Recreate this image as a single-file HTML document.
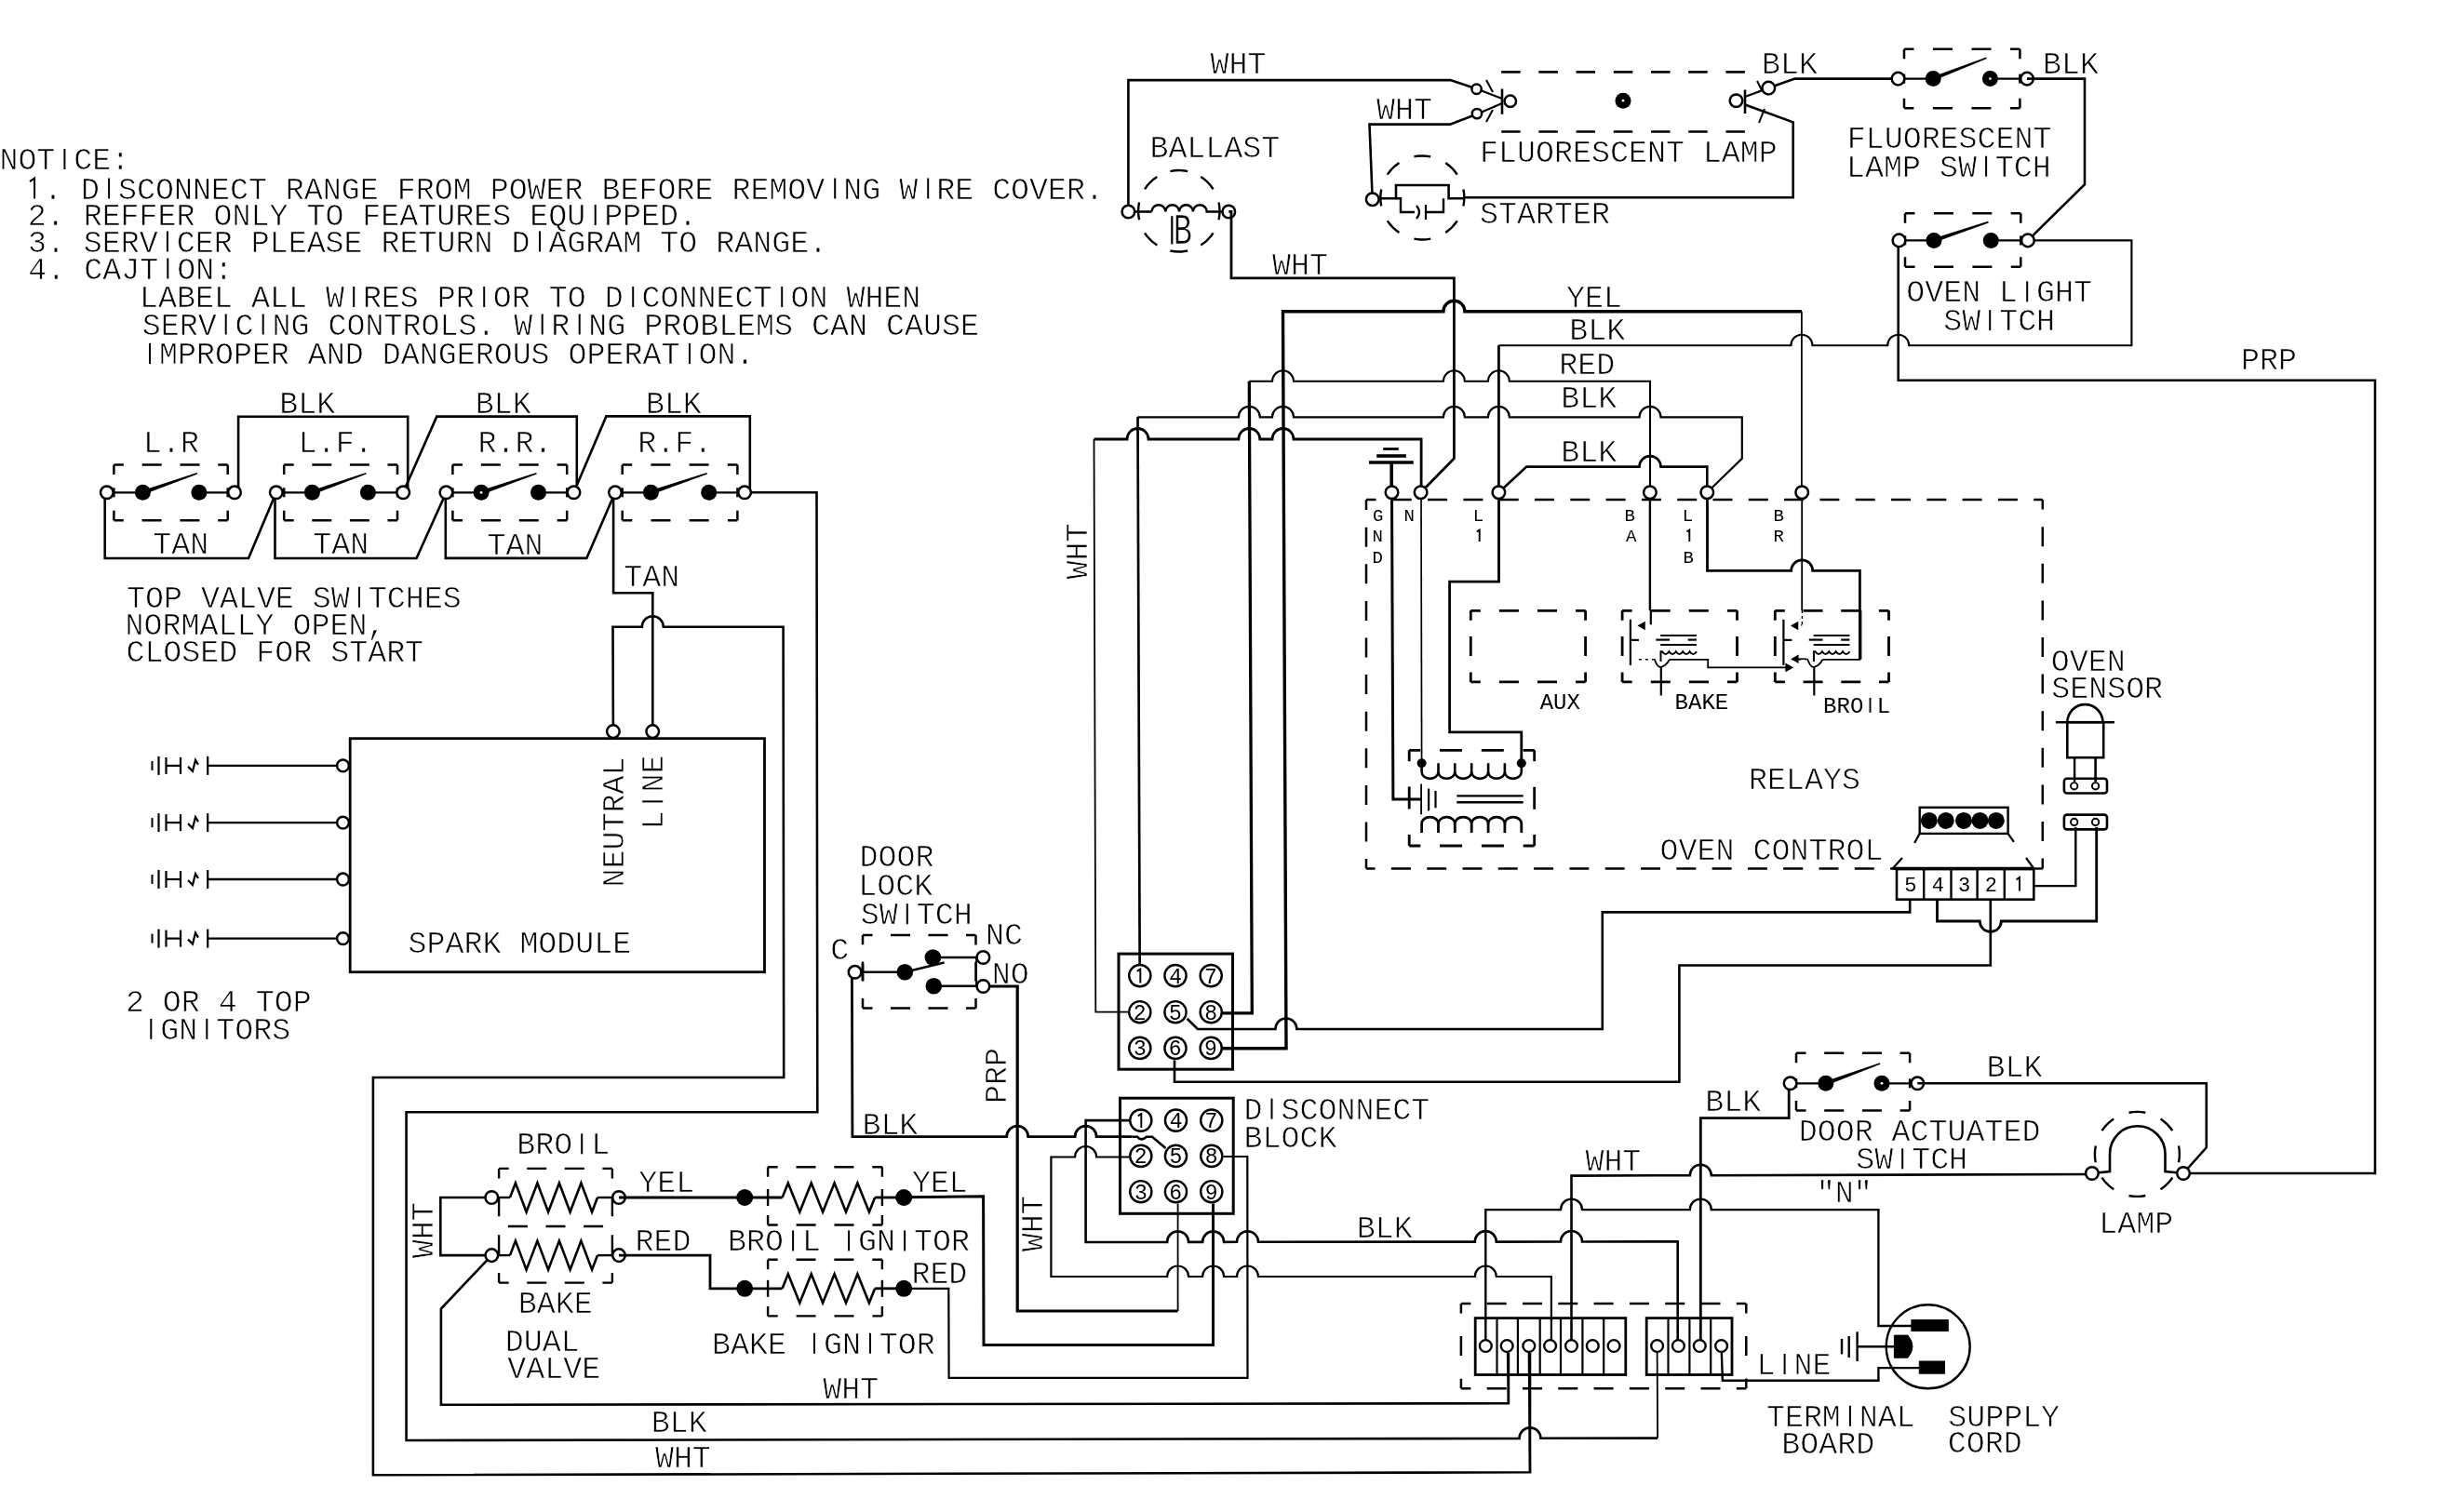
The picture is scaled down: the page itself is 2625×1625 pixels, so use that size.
<!DOCTYPE html>
<html><head><meta charset="utf-8"><title>Wiring Diagram</title>
<style>
html,body{margin:0;padding:0;background:#fff;}
body{width:2625px;height:1625px;overflow:hidden;}
svg{display:block;will-change:transform;}
text{white-space:pre;font-family:"Liberation Mono",monospace;fill:#000;stroke:#fff;stroke-width:0.7px;}
text.s{stroke:none;}
</style></head><body>
<svg xml:space="preserve" width="2625" height="1625" viewBox="0 0 2625 1625"><rect width="100%" height="100%" fill="#fff"/><g fill="none" stroke="#000" stroke-linecap="butt" stroke-linejoin="miter"><g transform="translate(2 182)"><text class="t" x="-2.6" y="0" font-size="33.3">NOT CE:</text><line class="ib" x1="67.4" y1="0" x2="67.4" y2="-22" stroke-width="2"/></g>
<g transform="translate(32 213.5)"><text class="t" x="-4.9" y="0" font-size="33.3"> . D SCONNECT RANGE FROM POWER BEFORE REMOV NG W RE COVER.</text><line class="ib" x1="85.1" y1="0" x2="85.1" y2="-22" stroke-width="2"/><line class="ib" x1="865.2" y1="0" x2="865.2" y2="-22" stroke-width="2"/><line class="ib" x1="965.2" y1="0" x2="965.2" y2="-22" stroke-width="2"/><path class="ib" d="M5.1 0 V-22 L0 -18.4" stroke-width="2" fill="none"/></g>
<g transform="translate(32 242)"><text class="t" x="-2.3" y="0" font-size="33.3">2. REFFER ONLY TO FEATURES EQU PPED.</text><line class="ib" x1="607.7" y1="0" x2="607.7" y2="-22" stroke-width="2"/></g>
<g transform="translate(32 270.5)"><text class="t" x="-2.1" y="0" font-size="33.3">3. SERV CER PLEASE RETURN D AGRAM TO RANGE.</text><line class="ib" x1="147.9" y1="0" x2="147.9" y2="-22" stroke-width="2"/><line class="ib" x1="548" y1="0" x2="548" y2="-22" stroke-width="2"/></g>
<g transform="translate(32 299.5)"><text class="t" x="-1.7" y="0" font-size="33.3">4. CAJT ON:</text><line class="ib" x1="148.3" y1="0" x2="148.3" y2="-22" stroke-width="2"/></g>
<g transform="translate(154 330)"><text class="t" x="-3.9" y="0" font-size="33.3">LABEL ALL W RES PR OR TO D CONNECT ON WHEN</text><line class="ib" x1="226.2" y1="0" x2="226.2" y2="-22" stroke-width="2"/><line class="ib" x1="366.2" y1="0" x2="366.2" y2="-22" stroke-width="2"/><line class="ib" x1="526.2" y1="0" x2="526.2" y2="-22" stroke-width="2"/><line class="ib" x1="686.2" y1="0" x2="686.2" y2="-22" stroke-width="2"/></g>
<g transform="translate(154 359.5)"><text class="t" x="-1.3" y="0" font-size="33.3">SERV C NG CONTROLS. W R NG PROBLEMS CAN CAUSE</text><line class="ib" x1="88.7" y1="0" x2="88.7" y2="-22" stroke-width="2"/><line class="ib" x1="128.7" y1="0" x2="128.7" y2="-22" stroke-width="2"/><line class="ib" x1="428.7" y1="0" x2="428.7" y2="-22" stroke-width="2"/><line class="ib" x1="468.7" y1="0" x2="468.7" y2="-22" stroke-width="2"/></g>
<g transform="translate(160 391)"><text class="t" x="-9" y="0" font-size="33.3"> MPROPER AND DANGEROUS OPERAT ON.</text><line class="ib" x1="1" y1="0" x2="1" y2="-22" stroke-width="2"/><line class="ib" x1="581" y1="0" x2="581" y2="-22" stroke-width="2"/></g>
<path d="M252 529.3 L256.1 529.3 L256.1 447.8 L438.2 447.8 L438.2 529.3 L433.2 529.3" stroke-width="2.6"/>
<path d="M433.2 529.3 L469.3 447.6 L619.8 447.6 L619.8 529.3 L616.5 529.3" stroke-width="2.6"/>
<path d="M616.5 529.3 L651.4 447.4 L805.8 447.4 L805.8 529.3" stroke-width="2.6"/>
<path d="M114.8 529.3 L112.7 529.3 L112.7 600 L267 600 L296.8 529.3" stroke-width="2.6"/>
<path d="M295.5 529.3 L295.5 600 L447.5 600 L479.4 529.3" stroke-width="2.6"/>
<path d="M478.8 529.3 L478.8 599.9 L630.3 599.9 L661 529.3" stroke-width="2.6"/>
<path d="M659.1 529.3 L659.1 637.3 L701.3 637.3 L701.3 786.1" stroke-width="2.6"/>
<path d="M800.1 529.3 L877.5 529.3 L878.3 1195.3 L436.6 1195.3 L436.6 1548 L1632.5 1545.9 A11.5 11.5 0 0 1 1655.5 1545.8 L1781.1 1545.6" stroke-width="2.6"/>
<polyline points="114.8,529.3 153.4,529.3" stroke-width="2.3"/>
<polyline points="213.9,529.3 252,529.3" stroke-width="2.3"/>
<path d="M154.1 531.4 L212.2 509.6 L211.6 508 L152.7 527.2 Z" fill="#000" stroke="none"/>
<line x1="122.4" y1="499.4" x2="244.7" y2="499.4" stroke-width="2.5" stroke-dasharray="21 19.8" stroke-dashoffset="10.5"/>
<line x1="244.7" y1="499.4" x2="244.7" y2="559.2" stroke-width="2.5" stroke-dasharray="21 38.8" stroke-dashoffset="10.5"/>
<line x1="244.7" y1="559.2" x2="122.4" y2="559.2" stroke-width="2.5" stroke-dasharray="21 19.8" stroke-dashoffset="10.5"/>
<line x1="122.4" y1="559.2" x2="122.4" y2="499.4" stroke-width="2.5" stroke-dasharray="21 38.8" stroke-dashoffset="10.5"/>
<polyline points="122.4,524.3 122.4,534.3" stroke-width="2.5"/>
<polyline points="244.7,524.3 244.7,534.3" stroke-width="2.5"/>
<circle cx="153.4" cy="529.3" r="8.5" fill="#000" stroke="none"/>
<circle cx="213.9" cy="529.3" r="8.5" fill="#000" stroke="none"/>
<circle cx="114.8" cy="529.3" r="6.8" fill="#fff" stroke-width="2.5"/>
<circle cx="252" cy="529.3" r="6.8" fill="#fff" stroke-width="2.5"/>
<polyline points="296.8,529.3 335.4,529.3" stroke-width="2.3"/>
<polyline points="395.4,529.3 433.2,529.3" stroke-width="2.3"/>
<path d="M336.1 531.4 L393.7 509.6 L393.1 508 L334.7 527.2 Z" fill="#000" stroke="none"/>
<line x1="305.2" y1="499.4" x2="427" y2="499.4" stroke-width="2.5" stroke-dasharray="21 19.6" stroke-dashoffset="10.5"/>
<line x1="427" y1="499.4" x2="427" y2="559.2" stroke-width="2.5" stroke-dasharray="21 38.8" stroke-dashoffset="10.5"/>
<line x1="427" y1="559.2" x2="305.2" y2="559.2" stroke-width="2.5" stroke-dasharray="21 19.6" stroke-dashoffset="10.5"/>
<line x1="305.2" y1="559.2" x2="305.2" y2="499.4" stroke-width="2.5" stroke-dasharray="21 38.8" stroke-dashoffset="10.5"/>
<polyline points="305.2,524.3 305.2,534.3" stroke-width="2.5"/>
<polyline points="427,524.3 427,534.3" stroke-width="2.5"/>
<circle cx="335.4" cy="529.3" r="8.5" fill="#000" stroke="none"/>
<circle cx="395.4" cy="529.3" r="8.5" fill="#000" stroke="none"/>
<circle cx="296.8" cy="529.3" r="6.8" fill="#fff" stroke-width="2.5"/>
<circle cx="433.2" cy="529.3" r="6.8" fill="#fff" stroke-width="2.5"/>
<polyline points="479.4,529.3 517.1,529.3" stroke-width="2.3"/>
<polyline points="578.5,529.3 616.5,529.3" stroke-width="2.3"/>
<path d="M517.8 531.4 L576.8 509.6 L576.2 508 L516.4 527.2 Z" fill="#000" stroke="none"/>
<line x1="486.4" y1="499.4" x2="609.2" y2="499.4" stroke-width="2.5" stroke-dasharray="21 19.9" stroke-dashoffset="10.5"/>
<line x1="609.2" y1="499.4" x2="609.2" y2="559.2" stroke-width="2.5" stroke-dasharray="21 38.8" stroke-dashoffset="10.5"/>
<line x1="609.2" y1="559.2" x2="486.4" y2="559.2" stroke-width="2.5" stroke-dasharray="21 19.9" stroke-dashoffset="10.5"/>
<line x1="486.4" y1="559.2" x2="486.4" y2="499.4" stroke-width="2.5" stroke-dasharray="21 38.8" stroke-dashoffset="10.5"/>
<polyline points="486.4,524.3 486.4,534.3" stroke-width="2.5"/>
<polyline points="609.2,524.3 609.2,534.3" stroke-width="2.5"/>
<circle cx="517.1" cy="529.3" r="8.5" fill="#000" stroke="none"/>
<circle cx="517.1" cy="529.3" r="1.4" fill="#fff" stroke="none"/>
<circle cx="578.5" cy="529.3" r="8.5" fill="#000" stroke="none"/>
<circle cx="479.4" cy="529.3" r="6.8" fill="#fff" stroke-width="2.5"/>
<circle cx="616.5" cy="529.3" r="6.8" fill="#fff" stroke-width="2.5"/>
<polyline points="661,529.3 699.4,529.3" stroke-width="2.3"/>
<polyline points="761.7,529.3 800.1,529.3" stroke-width="2.3"/>
<path d="M700.1 531.4 L760 509.6 L759.4 508 L698.7 527.2 Z" fill="#000" stroke="none"/>
<line x1="668.7" y1="499.4" x2="792.4" y2="499.4" stroke-width="2.5" stroke-dasharray="21 20.2" stroke-dashoffset="10.5"/>
<line x1="792.4" y1="499.4" x2="792.4" y2="559.2" stroke-width="2.5" stroke-dasharray="21 38.8" stroke-dashoffset="10.5"/>
<line x1="792.4" y1="559.2" x2="668.7" y2="559.2" stroke-width="2.5" stroke-dasharray="21 20.2" stroke-dashoffset="10.5"/>
<line x1="668.7" y1="559.2" x2="668.7" y2="499.4" stroke-width="2.5" stroke-dasharray="21 38.8" stroke-dashoffset="10.5"/>
<polyline points="668.7,524.3 668.7,534.3" stroke-width="2.5"/>
<polyline points="792.4,524.3 792.4,534.3" stroke-width="2.5"/>
<circle cx="699.4" cy="529.3" r="8.5" fill="#000" stroke="none"/>
<circle cx="761.7" cy="529.3" r="8.5" fill="#000" stroke="none"/>
<circle cx="661" cy="529.3" r="6.8" fill="#fff" stroke-width="2.5"/>
<circle cx="800.1" cy="529.3" r="6.8" fill="#fff" stroke-width="2.5"/>
<g transform="translate(158 486.4)"><text class="t" x="-3.9" y="0" font-size="33.3">L.R</text></g>
<g transform="translate(324.6 486.4)"><text class="t" x="-3.9" y="0" font-size="33.3">L.F.</text></g>
<g transform="translate(516.2 485.8)"><text class="t" x="-2.6" y="0" font-size="33.3">R.R.</text></g>
<g transform="translate(687.9 485.8)"><text class="t" x="-2.6" y="0" font-size="33.3">R.F.</text></g>
<g transform="translate(302.8 443.6)"><text class="t" x="-2.6" y="0" font-size="33.3">BLK</text></g>
<g transform="translate(513.3 443.6)"><text class="t" x="-2.6" y="0" font-size="33.3">BLK</text></g>
<g transform="translate(696.5 443.6)"><text class="t" x="-2.6" y="0" font-size="33.3">BLK</text></g>
<g transform="translate(165.5 595.4)"><text class="t" x="-1.2" y="0" font-size="33.3">TAN</text></g>
<g transform="translate(337.5 595.4)"><text class="t" x="-1.2" y="0" font-size="33.3">TAN</text></g>
<g transform="translate(524.8 596)"><text class="t" x="-1.2" y="0" font-size="33.3">TAN</text></g>
<g transform="translate(671.5 629.6)"><text class="t" x="-1.2" y="0" font-size="33.3">TAN</text></g>
<g transform="translate(137.2 652.7)"><text class="t" x="-1.2" y="0" font-size="33.3">TOP VALVE SW TCHES</text><line class="ib" x1="248.8" y1="0" x2="248.8" y2="-22" stroke-width="2"/></g>
<g transform="translate(137.2 681.9)"><text class="t" x="-2.6" y="0" font-size="33.3">NORMALLY OPEN,</text></g>
<g transform="translate(137.2 711.1)"><text class="t" x="-1.8" y="0" font-size="33.3">CLOSED FOR START</text></g>
<rect x="376.2" y="793.7" width="445.3" height="251" stroke-width="2.8" fill="none"/>
<path d="M658.9 786.1 L658.5 673.7 L689.8 673.7 A11.5 11.5 0 0 1 712.8 673.7 L841.6 673.7 L842.2 1158 L400.9 1158 L400.9 1585.3 L1644 1582.3 L1644 1454" stroke-width="2.6"/>
<circle cx="658.9" cy="786.1" r="6.8" fill="#fff" stroke-width="2.5"/>
<circle cx="701.2" cy="786.1" r="6.8" fill="#fff" stroke-width="2.5"/>
<g transform="translate(670.2 950.8) rotate(-90)"><text class="t" x="-2.6" y="0" font-size="33.3">NEUTRAL</text></g>
<g transform="translate(712.2 887.5) rotate(-90)"><text class="t" x="-3.9" y="0" font-size="33.3">L NE</text><line class="ib" x1="26.1" y1="0" x2="26.1" y2="-22" stroke-width="2"/></g>
<g transform="translate(439.8 1024.1)"><text class="t" x="-1.3" y="0" font-size="33.3">SPARK MODULE</text></g>
<polyline points="223.2,822.9 362,822.9" stroke-width="2.3"/>
<circle cx="368.5" cy="822.9" r="6.4" fill="#fff" stroke-width="2.5"/>
<polyline points="163.5,817.9 163.5,827.9" stroke-width="2"/>
<polyline points="170.5,812.9 170.5,832.9" stroke-width="2.2"/>
<polyline points="178.5,813.9 178.5,831.9" stroke-width="2.2"/>
<polyline points="178.5,822.9 194,822.9" stroke-width="2.2"/>
<polyline points="194,813.9 194,831.9" stroke-width="2.2"/>
<path d="M202 823.9 L207 828.9 L210 816.9 L213 821.9" stroke-width="2.2"/>
<polyline points="223.2,812.9 223.2,832.9" stroke-width="2.2"/>
<polyline points="223.2,884.1 362,884.1" stroke-width="2.3"/>
<circle cx="368.5" cy="884.1" r="6.4" fill="#fff" stroke-width="2.5"/>
<polyline points="163.5,879.1 163.5,889.1" stroke-width="2"/>
<polyline points="170.5,874.1 170.5,894.1" stroke-width="2.2"/>
<polyline points="178.5,875.1 178.5,893.1" stroke-width="2.2"/>
<polyline points="178.5,884.1 194,884.1" stroke-width="2.2"/>
<polyline points="194,875.1 194,893.1" stroke-width="2.2"/>
<path d="M202 885.1 L207 890.1 L210 878.1 L213 883.1" stroke-width="2.2"/>
<polyline points="223.2,874.1 223.2,894.1" stroke-width="2.2"/>
<polyline points="223.2,945 362,945" stroke-width="2.3"/>
<circle cx="368.5" cy="945" r="6.4" fill="#fff" stroke-width="2.5"/>
<polyline points="163.5,940 163.5,950" stroke-width="2"/>
<polyline points="170.5,935 170.5,955" stroke-width="2.2"/>
<polyline points="178.5,936 178.5,954" stroke-width="2.2"/>
<polyline points="178.5,945 194,945" stroke-width="2.2"/>
<polyline points="194,936 194,954" stroke-width="2.2"/>
<path d="M202 946 L207 951 L210 939 L213 944" stroke-width="2.2"/>
<polyline points="223.2,935 223.2,955" stroke-width="2.2"/>
<polyline points="223.2,1008.6 362,1008.6" stroke-width="2.3"/>
<circle cx="368.5" cy="1008.6" r="6.4" fill="#fff" stroke-width="2.5"/>
<polyline points="163.5,1003.6 163.5,1013.6" stroke-width="2"/>
<polyline points="170.5,998.6 170.5,1018.6" stroke-width="2.2"/>
<polyline points="178.5,999.6 178.5,1017.6" stroke-width="2.2"/>
<polyline points="178.5,1008.6 194,1008.6" stroke-width="2.2"/>
<polyline points="194,999.6 194,1017.6" stroke-width="2.2"/>
<path d="M202 1009.6 L207 1014.6 L210 1002.6 L213 1007.6" stroke-width="2.2"/>
<polyline points="223.2,998.6 223.2,1018.6" stroke-width="2.2"/>
<g transform="translate(137.2 1086.5)"><text class="t" x="-2.3" y="0" font-size="33.3">2 OR 4 TOP</text></g>
<g transform="translate(161.3 1116.9)"><text class="t" x="-9" y="0" font-size="33.3"> GN TORS</text><line class="ib" x1="1" y1="0" x2="1" y2="-22" stroke-width="2"/><line class="ib" x1="61" y1="0" x2="61" y2="-22" stroke-width="2"/></g>
<path d="M1212.4 227.3 L1212.4 86.1 L1558.5 86.1 L1586.7 95.5" stroke-width="2.6"/>
<path d="M1474.7 214.2 L1471.5 133.6 L1558 133.6 L1586.7 122.8" stroke-width="2.6"/>
<polyline points="1212.4,227.5 1237.5,227.5" stroke-width="2.6"/>
<path d="M1237.5 227.5 A7.4 7.3 0 0 1 1252.3 227.5 A7.4 7.3 0 0 1 1267.1 227.5 A7.4 7.3 0 0 1 1281.9 227.5 A7.4 7.3 0 0 1 1296.7 227.5 L1320 227.5" stroke-width="2.5"/>
<circle cx="1212.4" cy="227.5" r="6.8" fill="#fff" stroke-width="2.5"/>
<circle cx="1320.3" cy="227.5" r="6.8" fill="#fff" stroke-width="2.5"/>
<path d="M1309.5 236.2 A43.7 43.7 0 0 0 1309.5 217.4 M1303.6 203.3 A43.7 43.7 0 0 0 1290.3 190 M1276.2 184.1 A43.7 43.7 0 0 0 1257.4 184.1 M1243.3 190 A43.7 43.7 0 0 0 1230 203.3 M1224.1 217.4 A43.7 43.7 0 0 0 1224.1 236.2 M1230 250.3 A43.7 43.7 0 0 0 1243.3 263.6 M1257.4 269.5 A43.7 43.7 0 0 0 1276.2 269.5 M1290.3 263.6 A43.7 43.7 0 0 0 1303.6 250.3" stroke-width="2.4"/>
<text class="t" transform="translate(1263.3 262.4) scale(0.74 1)" x="-3.6" y="0" font-size="45.5">B</text>
<polyline points="1259.3,232.2 1259.3,262.4" stroke-width="2.2"/>
<g transform="translate(1238 169)"><text class="t" x="-2.6" y="0" font-size="33.3">BALLAST</text></g>
<g transform="translate(1300.5 79.2)"><text class="t" x="-0" y="0" font-size="33.3">WHT</text></g>
<g transform="translate(1479 127.6)"><text class="t" x="-0" y="0" font-size="33.3">WHT</text></g>
<circle cx="1474.7" cy="214.2" r="6.8" fill="#fff" stroke-width="2.5"/>
<path d="M1483 213.2 L1500 213.2 L1500 199 L1556.6 199 L1556.6 213.2 L1573.5 213.2" stroke-width="2.6"/>
<path d="M1500 213.2 L1505 213.2 L1505 228 L1520 228" stroke-width="2.4"/>
<path d="M1522 221 Q1528 228 1522 235" stroke-width="2.2"/>
<polyline points="1532,220 1532,236" stroke-width="2.2"/>
<path d="M1532 228 L1551 228 L1551 213.2" stroke-width="2.4"/>
<path d="M1572.4 221.4 A45 45 0 0 0 1572.4 203.6 M1565.8 187.6 A45 45 0 0 0 1553.2 175 M1537.2 168.4 A45 45 0 0 0 1519.4 168.4 M1503.4 175 A45 45 0 0 0 1490.8 187.6 M1484.2 203.6 A45 45 0 0 0 1484.2 221.4 M1490.8 237.4 A45 45 0 0 0 1503.4 250 M1519.4 256.6 A45 45 0 0 0 1537.2 256.6 M1553.2 250 A45 45 0 0 0 1565.8 237.4" stroke-width="2.4"/>
<g transform="translate(1591.4 239.6)"><text class="t" x="-1.3" y="0" font-size="33.3">STARTER</text></g>
<path d="M1573.5 212.3 L1926.7 212.3 L1926.7 131.3 L1875 112.5" stroke-width="2.6"/>
<line x1="1613.2" y1="77.4" x2="1875" y2="77.4" stroke-width="2.6" stroke-dasharray="20.5 19.7" stroke-dashoffset="0"/>
<line x1="1613.2" y1="141.5" x2="1875" y2="141.5" stroke-width="2.6" stroke-dasharray="20.5 19.7" stroke-dashoffset="0"/>
<polyline points="1614,95.5 1614,122.8" stroke-width="2.6"/>
<polyline points="1586.7,95.5 1614,106" stroke-width="2.3"/>
<polyline points="1586.7,122.8 1614,111" stroke-width="2.3"/>
<circle cx="1622.8" cy="108.8" r="6.2" fill="#fff" stroke-width="2.5"/>
<circle cx="1586.6" cy="95.8" r="5.2" fill="#fff" stroke-width="2.5"/>
<circle cx="1587" cy="122.1" r="5.2" fill="#fff" stroke-width="2.5"/>
<polyline points="1597,86 1604,99" stroke-width="2"/>
<polyline points="1597,131 1604,118" stroke-width="2"/>
<circle cx="1744" cy="108.2" r="8.5" fill="#000" stroke="none"/>
<circle cx="1744" cy="108.2" r="1.4" fill="#fff" stroke="none"/>
<polyline points="1875,96.5 1875,122" stroke-width="2.6"/>
<polyline points="1875,104 1900.3,94.6" stroke-width="2.3"/>
<circle cx="1865.5" cy="108.2" r="6.8" fill="#fff" stroke-width="2.5"/>
<path d="M1900.3 94.6 L1928.6 84.6 L2039.5 84.6" stroke-width="2.6"/>
<circle cx="1900.3" cy="94.6" r="6.8" fill="#fff" stroke-width="2.5"/>
<polyline points="1888,87 1893,97" stroke-width="2"/>
<polyline points="1890,132 1896,117" stroke-width="2"/>
<g transform="translate(1593.3 174)"><text class="t" x="-3.2" y="0" font-size="33.3">FLUORESCENT LAMP</text></g>
<g transform="translate(1895.6 78.6)"><text class="t" x="-2.6" y="0" font-size="33.3">BLK</text></g>
<polyline points="2039.5,84.6 2077.2,84.6" stroke-width="2.3"/>
<polyline points="2138.4,84.6 2178,84.6" stroke-width="2.3"/>
<path d="M2078 86.6 L2134.9 62.9 L2134.3 61.5 L2076.4 82.6 Z" fill="#000" stroke="none"/>
<line x1="2046" y1="52.8" x2="2170.4" y2="52.8" stroke-width="2.5" stroke-dasharray="21 20.5" stroke-dashoffset="10.5"/>
<line x1="2170.4" y1="52.8" x2="2170.4" y2="116.3" stroke-width="2.5" stroke-dasharray="21 42.5" stroke-dashoffset="10.5"/>
<line x1="2170.4" y1="116.3" x2="2046" y2="116.3" stroke-width="2.5" stroke-dasharray="21 20.5" stroke-dashoffset="10.5"/>
<line x1="2046" y1="116.3" x2="2046" y2="52.8" stroke-width="2.5" stroke-dasharray="21 42.5" stroke-dashoffset="10.5"/>
<polyline points="2046,79.6 2046,89.6" stroke-width="2.5"/>
<polyline points="2170.4,79.6 2170.4,89.6" stroke-width="2.5"/>
<circle cx="2077.2" cy="84.6" r="8.5" fill="#000" stroke="none"/>
<circle cx="2138.4" cy="84.6" r="8.5" fill="#000" stroke="none"/>
<circle cx="2138.4" cy="84.6" r="1.4" fill="#fff" stroke="none"/>
<circle cx="2039.5" cy="84.6" r="6.8" fill="#fff" stroke-width="2.5"/>
<circle cx="2178" cy="84.6" r="6.8" fill="#fff" stroke-width="2.5"/>
<g transform="translate(2197.7 79)"><text class="t" x="-2.6" y="0" font-size="33.3">BLK</text></g>
<g transform="translate(1987.9 158.6)"><text class="t" x="-3.2" y="0" font-size="33.3">FLUORESCENT</text></g>
<g transform="translate(1987.9 189.7)"><text class="t" x="-3.9" y="0" font-size="33.3">LAMP SW TCH</text><line class="ib" x1="146.2" y1="0" x2="146.2" y2="-22" stroke-width="2"/></g>
<path d="M2178 84.6 L2240 84.6 L2240 198.2 L2178.9 258.4" stroke-width="2.6"/>
<path d="M2178.9 258.4 L2290.4 258.4 L2290.4 371.2 L2051.2 371.2 A11.5 11.5 0 0 0 2028.2 371.2 L1947.4 371.2 A11.5 11.5 0 0 0 1924.4 371.2 L1610.4 371.2" stroke-width="2.1"/>
<path d="M1610.4 371.2 L1610.4 529.2" stroke-width="2.8"/>
<path d="M2039.7 258.4 L2039.7 408.8 L2552 408.8 L2552 1261 L2346 1261" stroke-width="2.6"/>
<polyline points="2040.5,258.4 2078,258.4" stroke-width="2.3"/>
<polyline points="2139.3,258.4 2178.9,258.4" stroke-width="2.3"/>
<path d="M2078.7 260.5 L2136.8 239.4 L2136.2 237.8 L2077.3 256.3 Z" fill="#000" stroke="none"/>
<line x1="2047" y1="229.2" x2="2171.3" y2="229.2" stroke-width="2.5" stroke-dasharray="21 20.4" stroke-dashoffset="10.5"/>
<line x1="2171.3" y1="229.2" x2="2171.3" y2="286.7" stroke-width="2.5" stroke-dasharray="21 36.5" stroke-dashoffset="10.5"/>
<line x1="2171.3" y1="286.7" x2="2047" y2="286.7" stroke-width="2.5" stroke-dasharray="21 20.4" stroke-dashoffset="10.5"/>
<line x1="2047" y1="286.7" x2="2047" y2="229.2" stroke-width="2.5" stroke-dasharray="21 36.5" stroke-dashoffset="10.5"/>
<polyline points="2047,253.4 2047,263.4" stroke-width="2.5"/>
<polyline points="2171.3,253.4 2171.3,263.4" stroke-width="2.5"/>
<circle cx="2078" cy="258.4" r="8.5" fill="#000" stroke="none"/>
<circle cx="2139.3" cy="258.4" r="8.5" fill="#000" stroke="none"/>
<circle cx="2040.5" cy="258.4" r="6.8" fill="#fff" stroke-width="2.5"/>
<circle cx="2178.9" cy="258.4" r="6.8" fill="#fff" stroke-width="2.5"/>
<g transform="translate(2049.9 324.4)"><text class="t" x="-1.7" y="0" font-size="33.3">OVEN L GHT</text><line class="ib" x1="128.3" y1="0" x2="128.3" y2="-22" stroke-width="2"/></g>
<g transform="translate(2089.5 355.1)"><text class="t" x="-1.3" y="0" font-size="33.3">SW TCH</text><line class="ib" x1="48.7" y1="0" x2="48.7" y2="-22" stroke-width="2"/></g>
<g transform="translate(2410.6 396.6)"><text class="t" x="-2.6" y="0" font-size="33.3">PRP</text></g>
<path d="M1320.3 227.3 L1323 227.3 L1323 298.8 L1562.4 298.8 L1562.4 492.8 L1526.6 529.2" stroke-width="2.8"/>
<path d="M1300.9 1126.8 L1382 1126.8 L1378.5 334.8 L1550.9 334.8 A11.5 11.5 0 0 1 1573.9 334.8 L1935.9 334.8" stroke-width="3.4"/>
<path d="M1935.9 334.8 L1935.9 529.2" stroke-width="1.8"/>
<path d="M1301.4 1088.8 L1345.3 1088.8 L1342.3 409.8" stroke-width="3.3"/>
<path d="M1342.3 409.8 L1367 409.8 A11.5 11.5 0 0 1 1390 409.8 L1550.9 409.8 A11.5 11.5 0 0 1 1573.9 409.8 L1598.9 409.8 A11.5 11.5 0 0 1 1621.9 409.8 L1773 409.8 L1773 529.2" stroke-width="2.1"/>
<path d="M1224.7 1048.6 L1222.5 448.3" stroke-width="2.7"/>
<path d="M1222.5 448.3 L1330.8 448.3 A11.5 11.5 0 0 1 1353.8 448.3 L1367 448.3 A11.5 11.5 0 0 1 1390 448.3 L1550.9 448.3 A11.5 11.5 0 0 1 1573.9 448.3 L1598.9 448.3 A11.5 11.5 0 0 1 1621.9 448.3 L1761.5 448.3 A11.5 11.5 0 0 1 1784.5 448.3 L1871.8 448.3 L1871.8 492.8 L1834.3 529.2" stroke-width="2.2"/>
<path d="M1610.4 529.2 L1640.3 501.6 L1761.5 501.6 A11.5 11.5 0 0 1 1784.5 501.6 L1834.3 501.6 L1834.3 529.2" stroke-width="2.6"/>
<path d="M1224.9 1087.7 L1177.3 1087.7 L1175.5 472" stroke-width="1.8"/>
<path d="M1175.5 472 L1211 472 A11.5 11.5 0 0 1 1234 472 L1330.8 472 A11.5 11.5 0 0 1 1353.8 472 L1367 472 A11.5 11.5 0 0 1 1390 472 L1527.1 472 L1527.1 529.2" stroke-width="2.8"/>
<polyline points="1471,497 1518.8,497" stroke-width="3.6"/>
<polyline points="1479.2,490 1510.9,490" stroke-width="3.6"/>
<polyline points="1486.2,482.5 1502.8,482.5" stroke-width="2.8"/>
<polyline points="1495.2,497 1495.2,529.2" stroke-width="3.6"/>
<g transform="translate(1683.6 330)"><text class="t" x="-0.6" y="0" font-size="33.3">YEL</text></g>
<g transform="translate(1688.8 364.7)"><text class="t" x="-2.6" y="0" font-size="33.3">BLK</text></g>
<g transform="translate(1677.9 402.4)"><text class="t" x="-2.6" y="0" font-size="33.3">RED</text></g>
<g transform="translate(1679.8 438)"><text class="t" x="-2.6" y="0" font-size="33.3">BLK</text></g>
<g transform="translate(1679.8 495.6)"><text class="t" x="-2.6" y="0" font-size="33.3">BLK</text></g>
<g transform="translate(1367 295)"><text class="t" x="-0" y="0" font-size="33.3">WHT</text></g>
<g transform="translate(1167.5 622.5) rotate(-90)"><text class="t" x="-0" y="0" font-size="33.3">WHT</text></g>
<line x1="1468" y1="537.1" x2="2194.8" y2="537.1" stroke-width="2.5" stroke-dasharray="21 17.3" stroke-dashoffset="10.5"/>
<line x1="2194.8" y1="537.1" x2="2194.8" y2="933.6" stroke-width="2.5" stroke-dasharray="21 18.6" stroke-dashoffset="10.5"/>
<line x1="2194.8" y1="933.6" x2="1468" y2="933.6" stroke-width="2.5" stroke-dasharray="21 17.3" stroke-dashoffset="10.5"/>
<line x1="1468" y1="933.6" x2="1468" y2="537.1" stroke-width="2.5" stroke-dasharray="21 18.6" stroke-dashoffset="10.5"/>
<path d="M1495.5 529.2 L1496.9 858.9 L1527.1 858.9" stroke-width="3"/>
<path d="M1527 529.2 L1527.6 820.2" stroke-width="1.7"/>
<path d="M1610.5 529.2 L1610.5 625.1 L1557.6 625.1 L1557.6 786.9 L1634.8 786.9 L1634.8 820.2" stroke-width="2.8"/>
<path d="M1772.9 529.2 L1772.9 656" stroke-width="2.4"/>
<path d="M1834.5 529.2 L1834.5 613.3 L1924.7 613.3 A11.5 11.5 0 0 1 1947.7 613.3 L1998.4 613.3 L1998.4 708.2" stroke-width="2.8"/>
<path d="M1936.2 529.2 L1936.2 656" stroke-width="1.8"/>
<circle cx="1495.5" cy="529.2" r="6.8" fill="#fff" stroke-width="2.5"/>
<circle cx="1526.6" cy="529.2" r="6.8" fill="#fff" stroke-width="2.5"/>
<circle cx="1610.4" cy="529.2" r="6.8" fill="#fff" stroke-width="2.5"/>
<circle cx="1772.9" cy="529.2" r="6.8" fill="#fff" stroke-width="2.5"/>
<circle cx="1834.3" cy="529.2" r="6.8" fill="#fff" stroke-width="2.5"/>
<circle cx="1936.2" cy="529.2" r="6.8" fill="#fff" stroke-width="2.5"/>
<g transform="translate(1476 560)"><text class="s" x="-1" y="0" font-size="19">G</text></g>
<g transform="translate(1476 582)"><text class="s" x="-1.5" y="0" font-size="19">N</text></g>
<g transform="translate(1476 604.5)"><text class="s" x="-1.5" y="0" font-size="19">D</text></g>
<g transform="translate(1510 560)"><text class="s" x="-1.5" y="0" font-size="19">N</text></g>
<g transform="translate(1585 560)"><text class="s" x="-2.2" y="0" font-size="19">L</text></g>
<g transform="translate(1586.8 582)"><path class="ib" d="M2.9 0 V-12.5 L0 -10.5" stroke-width="1.9" fill="none"/></g>
<g transform="translate(1747 560)"><text class="s" x="-1.5" y="0" font-size="19">B</text></g>
<g transform="translate(1747 582)"><text class="s" x="-0" y="0" font-size="19">A</text></g>
<g transform="translate(1810 560)"><text class="s" x="-2.2" y="0" font-size="19">L</text></g>
<g transform="translate(1812.4 582)"><path class="ib" d="M2.9 0 V-12.5 L0 -10.5" stroke-width="1.9" fill="none"/></g>
<g transform="translate(1810 604.5)"><text class="s" x="-1.5" y="0" font-size="19">B</text></g>
<g transform="translate(1907 560)"><text class="s" x="-1.5" y="0" font-size="19">B</text></g>
<g transform="translate(1907 582)"><text class="s" x="-1.5" y="0" font-size="19">R</text></g>
<line x1="1580.3" y1="656.3" x2="1703.6" y2="656.3" stroke-width="2.8" stroke-dasharray="21 20.1" stroke-dashoffset="10.5"/>
<line x1="1703.6" y1="656.3" x2="1703.6" y2="732.9" stroke-width="2.8" stroke-dasharray="21 17.3" stroke-dashoffset="10.5"/>
<line x1="1703.6" y1="732.9" x2="1580.3" y2="732.9" stroke-width="2.8" stroke-dasharray="21 20.1" stroke-dashoffset="10.5"/>
<line x1="1580.3" y1="732.9" x2="1580.3" y2="656.3" stroke-width="2.8" stroke-dasharray="21 17.3" stroke-dashoffset="10.5"/>
<line x1="1743.1" y1="656.3" x2="1866.5" y2="656.3" stroke-width="2.8" stroke-dasharray="21 20.1" stroke-dashoffset="10.5"/>
<line x1="1866.5" y1="656.3" x2="1866.5" y2="732.9" stroke-width="2.8" stroke-dasharray="21 17.3" stroke-dashoffset="10.5"/>
<line x1="1866.5" y1="732.9" x2="1743.1" y2="732.9" stroke-width="2.8" stroke-dasharray="21 20.1" stroke-dashoffset="10.5"/>
<line x1="1743.1" y1="732.9" x2="1743.1" y2="656.3" stroke-width="2.8" stroke-dasharray="21 17.3" stroke-dashoffset="10.5"/>
<line x1="1907.3" y1="656.3" x2="2029.5" y2="656.3" stroke-width="2.8" stroke-dasharray="21 19.7" stroke-dashoffset="10.5"/>
<line x1="2029.5" y1="656.3" x2="2029.5" y2="732.9" stroke-width="2.8" stroke-dasharray="21 17.3" stroke-dashoffset="10.5"/>
<line x1="2029.5" y1="732.9" x2="1907.3" y2="732.9" stroke-width="2.8" stroke-dasharray="21 19.7" stroke-dashoffset="10.5"/>
<line x1="1907.3" y1="732.9" x2="1907.3" y2="656.3" stroke-width="2.8" stroke-dasharray="21 17.3" stroke-dashoffset="10.5"/>
<polyline points="1751.9,665.8 1751.9,714.9" stroke-width="2.2"/>
<polyline points="1751.9,687.9 1760.9,687.9" stroke-width="2.2"/>
<path d="M1761 672.5 L1767 669 L1767 676 Z" stroke-width="1.5" fill="#000"/>
<polyline points="1784.2,683 1822.9,683" stroke-width="2.2"/>
<polyline points="1779.3,687.6 1794,687.6" stroke-width="2.2"/>
<polyline points="1813.7,687.6 1822.9,687.6" stroke-width="2.2"/>
<polyline points="1784.2,693 1822.9,693" stroke-width="2.2"/>
<path d="M1784.5 711 L1784.5 700.2 L1786 700.2 Q1789.7 706 1793.4 700.2 L1793.4 700.2 Q1797.1 706 1800.8 700.2 L1800.8 700.2 Q1804.5 706 1808.2 700.2 L1808.2 700.2 Q1811.9 706 1815.6 700.2 L1815.6 700.2 Q1819.3 706 1823 700.2" stroke-width="2"/>
<polyline points="1760.9,708.8 1776.8,708.8" stroke-width="1.4" stroke-dasharray="3 4"/>
<path d="M1777.5 708 Q1781 718 1784.8 716.8 Q1790 716 1794 708.8" stroke-width="1.8"/>
<polyline points="1784.8,716 1784.8,747.5" stroke-width="2.2"/>
<polyline points="1916.4,665.8 1916.4,714.9" stroke-width="2.2"/>
<polyline points="1916.4,687.9 1925.4,687.9" stroke-width="2.2"/>
<path d="M1925.5 672.5 L1931.5 669 L1931.5 676 Z" stroke-width="1.5" fill="#000"/>
<polyline points="1948.7,683 1987.4,683" stroke-width="2.2"/>
<polyline points="1943.8,687.6 1958.5,687.6" stroke-width="2.2"/>
<polyline points="1978.2,687.6 1987.4,687.6" stroke-width="2.2"/>
<polyline points="1948.7,693 1987.4,693" stroke-width="2.2"/>
<path d="M1949 711 L1949 700.2 L1950.5 700.2 Q1954.2 706 1957.9 700.2 L1957.9 700.2 Q1961.6 706 1965.3 700.2 L1965.3 700.2 Q1969 706 1972.7 700.2 L1972.7 700.2 Q1976.4 706 1980.1 700.2 L1980.1 700.2 Q1983.8 706 1987.5 700.2" stroke-width="2"/>
<polyline points="1925.4,708.8 1941.3,708.8" stroke-width="1.4" stroke-dasharray="3 4"/>
<path d="M1942 708 Q1945.5 718 1949.3 716.8 Q1954.5 716 1958.5 708.8" stroke-width="1.8"/>
<polyline points="1949.3,716 1949.3,747.5" stroke-width="2.2"/>
<path d="M1794 708.8 L1835.2 708.8 L1835.2 717.4 L1922 717.4" stroke-width="1.8"/>
<path d="M1926 717.4 L1919 713.5 L1919 721.3 Z" stroke-width="1.2" fill="#000"/>
<path d="M1958.5 708.8 L1999.1 708.8" stroke-width="1.8"/>
<path d="M1941.4 708.2 L1929 708.2" stroke-width="1.6"/>
<path d="M1925.4 708.2 L1932 704.5 L1932 712 Z" stroke-width="1.2" fill="#000"/>
<polyline points="1936.4,656 1936.4,671" stroke-width="1.4" stroke-dasharray="3 3"/>
<polyline points="1929,671.9 1936.4,671.9" stroke-width="1.4" stroke-dasharray="3 3"/>
<polyline points="1773.8,656 1773.8,671.3" stroke-width="2.2"/>
<polyline points="1999.1,708.8 1999.1,656" stroke-width="2.6"/>
<g transform="translate(1654.7 762)"><text class="s" x="-0" y="0" font-size="24">AUX</text></g>
<g transform="translate(1801.5 762)"><text class="s" x="-1.9" y="0" font-size="24">BAKE</text></g>
<g transform="translate(1961 765.8)"><text class="s" x="-1.9" y="0" font-size="24">BRO L</text><line class="ib" x1="48.5" y1="0" x2="48.5" y2="-15.8" stroke-width="1.9"/></g>
<line x1="1514.2" y1="806.3" x2="1648.7" y2="806.3" stroke-width="2.8" stroke-dasharray="24 20.8" stroke-dashoffset="12"/>
<line x1="1648.7" y1="806.3" x2="1648.7" y2="909" stroke-width="2.8" stroke-dasharray="24 27.4" stroke-dashoffset="12"/>
<line x1="1648.7" y1="909" x2="1514.2" y2="909" stroke-width="2.8" stroke-dasharray="24 20.8" stroke-dashoffset="12"/>
<line x1="1514.2" y1="909" x2="1514.2" y2="806.3" stroke-width="2.8" stroke-dasharray="24 27.4" stroke-dashoffset="12"/>
<path d="M1527.6 820.2 V829.6 A8.9 7.2 0 0 0 1545.5 829.6 V820.2 M1545.5 820.2 V829.6 A8.9 7.2 0 0 0 1563.3 829.6 V820.2 M1563.3 820.2 V829.6 A8.9 7.2 0 0 0 1581.2 829.6 V820.2 M1581.2 820.2 V829.6 A8.9 7.2 0 0 0 1599.1 829.6 V820.2 M1599.1 820.2 V829.6 A8.9 7.2 0 0 0 1616.9 829.6 V820.2 M1616.9 820.2 V829.6 A8.9 7.2 0 0 0 1634.8 829.6 V820.2" stroke-width="2.6"/>
<circle cx="1527.6" cy="820.2" r="5" fill="#000" stroke="none"/>
<circle cx="1634.8" cy="820.2" r="5" fill="#000" stroke="none"/>
<polyline points="1565.3,855.4 1636.7,855.4" stroke-width="2.4"/>
<polyline points="1565.3,862.3 1636.7,862.3" stroke-width="2.4"/>
<polyline points="1527.1,842.5 1527.1,875.2" stroke-width="1.8"/>
<polyline points="1535.1,847.5 1535.1,871.3" stroke-width="2.2"/>
<polyline points="1542.5,850 1542.5,868.3" stroke-width="2.2"/>
<path d="M1527.6 895.1 V885.2 A8.9 7 0 0 1 1545.5 885.2 V895.1 M1545.5 895.1 V885.2 A8.9 7 0 0 1 1563.3 885.2 V895.1 M1563.3 895.1 V885.2 A8.9 7 0 0 1 1581.2 885.2 V895.1 M1581.2 895.1 V885.2 A8.9 7 0 0 1 1599.1 885.2 V895.1 M1599.1 895.1 V885.2 A8.9 7 0 0 1 1616.9 885.2 V895.1 M1616.9 895.1 V885.2 A8.9 7 0 0 1 1634.8 885.2 V895.1" stroke-width="2.8"/>
<g transform="translate(1881.7 848.2)"><text class="t" x="-2.6" y="0" font-size="33.3">RELAYS</text></g>
<g transform="translate(1785.3 924.4)"><text class="t" x="-1.7" y="0" font-size="33.3">OVEN CONTROL</text></g>
<rect x="2062.7" y="867.8" width="94.9" height="28.1" stroke-width="2.4" fill="none"/>
<circle cx="2072.8" cy="881.9" r="9" fill="#000" stroke="none"/>
<circle cx="2090.8" cy="881.9" r="9" fill="#000" stroke="none"/>
<circle cx="2110" cy="881.9" r="9" fill="#000" stroke="none"/>
<circle cx="2127.5" cy="881.9" r="9" fill="#000" stroke="none"/>
<circle cx="2144.8" cy="881.9" r="9" fill="#000" stroke="none"/>
<polyline points="2062.7,895.9 2057.1,906" stroke-width="2.2"/>
<polyline points="2157.6,895.9 2163.9,904.9" stroke-width="2.2"/>
<polyline points="2033.5,933.3 2185.3,933.3" stroke-width="3.2"/>
<polyline points="2034,933 2044,922" stroke-width="2.2"/>
<polyline points="2185,933 2177,922" stroke-width="2.2"/>
<rect x="2038" y="934.1" width="147.3" height="32.6" stroke-width="2.6" fill="none"/>
<polyline points="2067.2,934.1 2067.2,966.7" stroke-width="2.4"/>
<polyline points="2096.5,934.1 2096.5,966.7" stroke-width="2.4"/>
<polyline points="2124.6,934.1 2124.6,966.7" stroke-width="2.4"/>
<polyline points="2153.8,934.1 2153.8,966.7" stroke-width="2.4"/>
<g transform="translate(2047.6 957.5)"><text class="s" x="-1.4" y="0" font-size="22">5</text></g>
<g transform="translate(2076.8 957.5)"><text class="s" x="-1.1" y="0" font-size="22">4</text></g>
<g transform="translate(2105.5 957.5)"><text class="s" x="-1.4" y="0" font-size="22">3</text></g>
<g transform="translate(2134.2 957.5)"><text class="s" x="-1.5" y="0" font-size="22">2</text></g>
<g transform="translate(2166.6 957.5)"><path class="ib" d="M3.4 0 V-14.5 L0 -12.1" stroke-width="1.9" fill="none"/></g>
<path d="M2052.2 966.7 L2052.2 980.4 L1721.8 980.4 L1721.8 1106 L1393.4 1106 A11.5 11.5 0 0 0 1370.4 1106 L1286.9 1106 L1275.5 1094.8" stroke-width="2.6"/>
<path d="M2081.5 966.7 L2081.5 990 L2127.3 990 A11.5 11.5 0 0 0 2150.3 990 L2252.7 990 L2252.7 889" stroke-width="2.8"/>
<path d="M2138.8 966.7 L2138.8 1037.5 L1804.4 1037.5 L1804.4 1162.8 L1262 1162.8 L1262 1139.5" stroke-width="2.6"/>
<path d="M2185.3 952.1 L2230.3 952.1 L2230.3 889" stroke-width="2.4"/>
<g transform="translate(2205.5 720.5)"><text class="t" x="-1.7" y="0" font-size="33.3">OVEN</text></g>
<g transform="translate(2205.5 749.7)"><text class="t" x="-1.3" y="0" font-size="33.3">SENSOR</text></g>
<path d="M2221.3 776.2 A19.1 19.1 0 0 1 2259.5 776.2" stroke-width="2.6"/>
<polyline points="2208.9,776.2 2271.9,776.2" stroke-width="2.4"/>
<rect x="2221.3" y="776.2" width="38.9" height="38" stroke-width="2.6" fill="none"/>
<polyline points="2229.1,814.2 2229.1,840" stroke-width="2.4"/>
<polyline points="2251.6,814.2 2251.6,840" stroke-width="2.6"/>
<rect x="2217.9" y="836.7" width="46.1" height="15.8" rx="3" stroke-width="2.6" fill="none"/>
<rect x="2217.9" y="875.6" width="46.1" height="15.8" rx="3" stroke-width="2.6" fill="none"/>
<circle cx="2228.7" cy="844.8" r="3.7" fill="#fff" stroke-width="1.9"/>
<circle cx="2251.6" cy="844.8" r="3.7" fill="#fff" stroke-width="1.9"/>
<circle cx="2228.7" cy="883.5" r="3.7" fill="#fff" stroke-width="1.9"/>
<circle cx="2251.6" cy="883.5" r="3.7" fill="#fff" stroke-width="1.9"/>
<rect x="1202" y="1025.1" width="122.5" height="124.1" stroke-width="3" fill="none"/>
<circle cx="1224.8" cy="1048.6" r="11.6" fill="#fff" stroke-width="2.4"/>
<g transform="translate(1221.8 1056.6)"><path class="ib" d="M3.5 0 V-15.1 L0 -12.7" stroke-width="1.9" fill="none"/></g>
<circle cx="1224.8" cy="1087.7" r="11.6" fill="#fff" stroke-width="2.4"/>
<g transform="translate(1219.3 1095.7)"><text class="s" x="-1.6" y="0" font-size="23">2</text></g>
<circle cx="1224.8" cy="1126.4" r="11.6" fill="#fff" stroke-width="2.4"/>
<g transform="translate(1219.3 1134.4)"><text class="s" x="-1.4" y="0" font-size="23">3</text></g>
<circle cx="1263" cy="1048.6" r="11.6" fill="#fff" stroke-width="2.4"/>
<g transform="translate(1257.5 1056.6)"><text class="s" x="-1.2" y="0" font-size="23">4</text></g>
<circle cx="1263" cy="1087.7" r="11.6" fill="#fff" stroke-width="2.4"/>
<g transform="translate(1257.5 1095.7)"><text class="s" x="-1.4" y="0" font-size="23">5</text></g>
<circle cx="1263" cy="1126.4" r="11.6" fill="#fff" stroke-width="2.4"/>
<g transform="translate(1257.5 1134.4)"><text class="s" x="-1.7" y="0" font-size="23">6</text></g>
<circle cx="1301.2" cy="1048.6" r="11.6" fill="#fff" stroke-width="2.4"/>
<g transform="translate(1295.7 1056.6)"><text class="s" x="-1.8" y="0" font-size="23">7</text></g>
<circle cx="1301.2" cy="1087.7" r="11.6" fill="#fff" stroke-width="2.4"/>
<g transform="translate(1295.7 1095.7)"><text class="s" x="-1.5" y="0" font-size="23">8</text></g>
<circle cx="1301.2" cy="1126.4" r="11.6" fill="#fff" stroke-width="2.4"/>
<g transform="translate(1295.7 1134.4)"><text class="s" x="-1.6" y="0" font-size="23">9</text></g>
<g transform="translate(926.1 930.5)"><text class="t" x="-2.6" y="0" font-size="33.3">DOOR</text></g>
<g transform="translate(926.1 961.5)"><text class="t" x="-3.9" y="0" font-size="33.3">LOCK</text></g>
<g transform="translate(926.1 993.2)"><text class="t" x="-1.3" y="0" font-size="33.3">SW TCH</text><line class="ib" x1="48.7" y1="0" x2="48.7" y2="-22" stroke-width="2"/></g>
<g transform="translate(894.1 1031.2)"><text class="t" x="-1.8" y="0" font-size="33.3">C</text></g>
<g transform="translate(1061.7 1015.2)"><text class="t" x="-2.6" y="0" font-size="33.3">NC</text></g>
<g transform="translate(1068.3 1056.6)"><text class="t" x="-2.6" y="0" font-size="33.3">NO</text></g>
<line x1="927" y1="1004.9" x2="1048.5" y2="1004.9" stroke-width="2.5" stroke-dasharray="21 19.5" stroke-dashoffset="10.5"/>
<line x1="1048.5" y1="1004.9" x2="1048.5" y2="1083.4" stroke-width="2.5" stroke-dasharray="21 18.3" stroke-dashoffset="10.5"/>
<line x1="1048.5" y1="1083.4" x2="927" y2="1083.4" stroke-width="2.5" stroke-dasharray="21 19.5" stroke-dashoffset="10.5"/>
<line x1="927" y1="1083.4" x2="927" y2="1004.9" stroke-width="2.5" stroke-dasharray="21 18.3" stroke-dashoffset="10.5"/>
<polyline points="1049,1029 1049,1060" stroke-width="1.8"/>
<polyline points="918.6,1044.8 972.3,1044.8" stroke-width="2.6"/>
<polyline points="927,1036 927,1054" stroke-width="2.6"/>
<path d="M972.3 1044.8 L1014.6 1034.6" stroke-width="2.6"/>
<polyline points="1002.4,1029 1056.4,1029" stroke-width="2.6"/>
<polyline points="1003.3,1059.8 1056.4,1059.8" stroke-width="2.6"/>
<circle cx="972.3" cy="1044.8" r="8.8" fill="#000" stroke="none"/>
<circle cx="1002.4" cy="1029" r="8.8" fill="#000" stroke="none"/>
<circle cx="1003.3" cy="1059.8" r="8.8" fill="#000" stroke="none"/>
<path d="M915.4 1044.8 L915.9 1221.7 L1081.7 1221.7 A11.5 11.5 0 0 1 1104.7 1221.7 L1155.1 1221.7 A11.5 11.5 0 0 1 1178.1 1221.7 L1216.7 1221.7" stroke-width="2.8"/>
<path d="M1056.4 1060 L1093.2 1060 L1093.2 1409 L1265.6 1409" stroke-width="3.2"/>
<path d="M1265.6 1409 L1265.6 1293.5" stroke-width="1.8"/>
<circle cx="918.6" cy="1044.8" r="6.8" fill="#fff" stroke-width="2.5"/>
<circle cx="1056.4" cy="1029" r="6.8" fill="#fff" stroke-width="2.5"/>
<circle cx="1056.4" cy="1060" r="6.8" fill="#fff" stroke-width="2.5"/>
<g transform="translate(1080.5 1183.3) rotate(-90)"><text class="t" x="-2.6" y="0" font-size="33.3">PRP</text></g>
<g transform="translate(929 1219.3)"><text class="t" x="-2.6" y="0" font-size="33.3">BLK</text></g>
<path d="M1216.7 1221.7 L1222 1221.7 Q1226 1227 1232 1221.7 L1238 1221.7 L1252.5 1234" stroke-width="2.6"/>
<path d="M1213 1204.1 L1166.6 1204.1 L1166.6 1335 L1254.1 1334.9 A11.5 11.5 0 0 1 1277.1 1334.9 L1292.1 1334.9 A11.5 11.5 0 0 1 1315.1 1334.9 L1329 1334.8 A11.5 11.5 0 0 1 1352 1334.8 L1584.8 1334.6 A11.5 11.5 0 0 1 1607.8 1334.6 L1677 1334.5 A11.5 11.5 0 0 1 1700 1334.5 L1802.7 1334.4 L1802.7 1446.5" stroke-width="2.6"/>
<path d="M1213 1243.5 L1178.1 1243.5 A11.5 11.5 0 0 0 1155.1 1243.5 L1129.4 1243.5 L1129.4 1372 L1254.1 1372 A11.5 11.5 0 0 1 1277.1 1372 L1292.1 1372 A11.5 11.5 0 0 1 1315.1 1372 L1329 1372 A11.5 11.5 0 0 1 1352 1372 L1584.8 1372 A11.5 11.5 0 0 1 1607.8 1372 L1666.9 1372 L1666.9 1446.5" stroke-width="2.2"/>
<path d="M1314.6 1243 L1340.3 1243 L1340.5 1480.9 L1019.6 1480.9 L1019.3 1384.8 L971.2 1384.8" stroke-width="2.2"/>
<path d="M1303.5 1293.5 L1303.5 1445.4 L1057 1445.4 L1056.6 1285.8 L971.2 1286.8" stroke-width="3"/>
<rect x="1203.5" y="1180.2" width="121.7" height="124.1" stroke-width="3" fill="none"/>
<circle cx="1225.8" cy="1204.1" r="11.6" fill="#fff" stroke-width="2.4"/>
<g transform="translate(1222.8 1212.1)"><path class="ib" d="M3.5 0 V-15.1 L0 -12.7" stroke-width="1.9" fill="none"/></g>
<circle cx="1225.8" cy="1242.4" r="11.6" fill="#fff" stroke-width="2.4"/>
<g transform="translate(1220.3 1250.4)"><text class="s" x="-1.6" y="0" font-size="23">2</text></g>
<circle cx="1225.8" cy="1280.7" r="11.6" fill="#fff" stroke-width="2.4"/>
<g transform="translate(1220.3 1288.7)"><text class="s" x="-1.4" y="0" font-size="23">3</text></g>
<circle cx="1263.5" cy="1204.1" r="11.6" fill="#fff" stroke-width="2.4"/>
<g transform="translate(1258 1212.1)"><text class="s" x="-1.2" y="0" font-size="23">4</text></g>
<circle cx="1263.5" cy="1242.4" r="11.6" fill="#fff" stroke-width="2.4"/>
<g transform="translate(1258 1250.4)"><text class="s" x="-1.4" y="0" font-size="23">5</text></g>
<circle cx="1263.5" cy="1280.7" r="11.6" fill="#fff" stroke-width="2.4"/>
<g transform="translate(1258 1288.7)"><text class="s" x="-1.7" y="0" font-size="23">6</text></g>
<circle cx="1301.8" cy="1204.1" r="11.6" fill="#fff" stroke-width="2.4"/>
<g transform="translate(1296.3 1212.1)"><text class="s" x="-1.8" y="0" font-size="23">7</text></g>
<circle cx="1301.8" cy="1242.4" r="11.6" fill="#fff" stroke-width="2.4"/>
<g transform="translate(1296.3 1250.4)"><text class="s" x="-1.5" y="0" font-size="23">8</text></g>
<circle cx="1301.8" cy="1280.7" r="11.6" fill="#fff" stroke-width="2.4"/>
<g transform="translate(1296.3 1288.7)"><text class="s" x="-1.6" y="0" font-size="23">9</text></g>
<g transform="translate(1339.1 1202.6)"><text class="t" x="-2.6" y="0" font-size="33.3">D SCONNECT</text><line class="ib" x1="27.4" y1="0" x2="27.4" y2="-22" stroke-width="2"/></g>
<g transform="translate(1339.1 1233.4)"><text class="t" x="-2.6" y="0" font-size="33.3">BLOCK</text></g>
<g transform="translate(1460.4 1330.3)"><text class="t" x="-2.6" y="0" font-size="33.3">BLK</text></g>
<g transform="translate(1119.8 1345.2) rotate(-90)"><text class="t" x="-0" y="0" font-size="33.3">WHT</text></g>
<path d="M528.3 1287 L473.3 1287 L473.3 1349.1 L528.3 1349.1" stroke-width="2.6"/>
<path d="M528.3 1349.1 L473.9 1406.6 L473.9 1509.8 L1620.9 1508.2 L1620.9 1454" stroke-width="2.6"/>
<polyline points="528.3,1287 548,1287" stroke-width="2.4"/>
<path d="M548 1287 L553.9 1271.5 L565.6 1302.5 L577.4 1271.5 L589.1 1302.5 L600.9 1271.5 L612.6 1302.5 L624.4 1271.5 L636.1 1302.5 L642 1287" stroke-width="2.6"/>
<polyline points="642,1287 665,1287" stroke-width="2.4"/>
<circle cx="528.3" cy="1287" r="6.8" fill="#fff" stroke-width="2.5"/>
<circle cx="665" cy="1287" r="6.8" fill="#fff" stroke-width="2.5"/>
<polyline points="528.3,1349.1 548,1349.1" stroke-width="2.4"/>
<path d="M548 1349.1 L553.9 1333.6 L565.6 1364.6 L577.4 1333.6 L589.1 1364.6 L600.9 1333.6 L612.6 1364.6 L624.4 1333.6 L636.1 1364.6 L642 1349.1" stroke-width="2.6"/>
<polyline points="642,1349.1 665,1349.1" stroke-width="2.4"/>
<circle cx="528.3" cy="1349.1" r="6.8" fill="#fff" stroke-width="2.5"/>
<circle cx="665" cy="1349.1" r="6.8" fill="#fff" stroke-width="2.5"/>
<line x1="536.1" y1="1255.9" x2="657.9" y2="1255.9" stroke-width="2.4" stroke-dasharray="21 19.6" stroke-dashoffset="10.5"/>
<line x1="536.1" y1="1378.6" x2="657.9" y2="1378.6" stroke-width="2.4" stroke-dasharray="21 19.6" stroke-dashoffset="10.5"/>
<line x1="536.1" y1="1318" x2="657.9" y2="1318" stroke-width="2.4" stroke-dasharray="21 19.6" stroke-dashoffset="-9.8"/>
<line x1="536.1" y1="1255.9" x2="536.1" y2="1378.6" stroke-width="2.4" stroke-dasharray="21 19.9" stroke-dashoffset="10.5"/>
<line x1="657.9" y1="1255.9" x2="657.9" y2="1378.6" stroke-width="2.4" stroke-dasharray="21 19.9" stroke-dashoffset="10.5"/>
<g transform="translate(557.8 1240.3)"><text class="t" x="-2.6" y="0" font-size="33.3">BRO L</text><line class="ib" x1="67.4" y1="0" x2="67.4" y2="-22" stroke-width="2"/></g>
<g transform="translate(559.4 1411.3)"><text class="t" x="-2.6" y="0" font-size="33.3">BAKE</text></g>
<g transform="translate(545.4 1451.7)"><text class="t" x="-2.6" y="0" font-size="33.3">DUAL</text></g>
<g transform="translate(545.4 1481.2)"><text class="t" x="-0.2" y="0" font-size="33.3">VALVE</text></g>
<g transform="translate(464.6 1352.2) rotate(-90)"><text class="t" x="-0" y="0" font-size="33.3">WHT</text></g>
<path d="M665 1287 L800.2 1287" stroke-width="2.8"/>
<path d="M665 1349.1 L763 1349.1 L763 1384.8 L800.2 1384.8" stroke-width="2.8"/>
<g transform="translate(686.8 1280.7)"><text class="t" x="-0.6" y="0" font-size="33.3">YEL</text></g>
<g transform="translate(685.2 1344.4)"><text class="t" x="-2.6" y="0" font-size="33.3">RED</text></g>
<polyline points="800.2,1287 840.6,1287" stroke-width="2.8"/>
<path d="M840.6 1287 L846.8 1271.5 L859.3 1302.5 L871.7 1271.5 L884.1 1302.5 L896.6 1271.5 L909 1302.5 L921.4 1271.5 L933.9 1302.5 L940.1 1287" stroke-width="2.6"/>
<polyline points="940.1,1287 971.2,1287" stroke-width="2.8"/>
<polyline points="825.1,1278 825.1,1296" stroke-width="2.4"/>
<polyline points="947.9,1278 947.9,1296" stroke-width="2.4"/>
<line x1="825.1" y1="1254.3" x2="947.9" y2="1254.3" stroke-width="2.4" stroke-dasharray="21 19.9" stroke-dashoffset="10.5"/>
<line x1="947.9" y1="1254.3" x2="947.9" y2="1316.5" stroke-width="2.4" stroke-dasharray="21 41.2" stroke-dashoffset="10.5"/>
<line x1="947.9" y1="1316.5" x2="825.1" y2="1316.5" stroke-width="2.4" stroke-dasharray="21 19.9" stroke-dashoffset="10.5"/>
<line x1="825.1" y1="1316.5" x2="825.1" y2="1254.3" stroke-width="2.4" stroke-dasharray="21 41.2" stroke-dashoffset="10.5"/>
<circle cx="800.2" cy="1287" r="9" fill="#000" stroke="none"/>
<circle cx="971.2" cy="1287" r="9" fill="#000" stroke="none"/>
<polyline points="800.2,1384.8 840.6,1384.8" stroke-width="2.8"/>
<path d="M840.6 1384.8 L846.8 1369.3 L859.3 1400.3 L871.7 1369.3 L884.1 1400.3 L896.6 1369.3 L909 1400.3 L921.4 1369.3 L933.9 1400.3 L940.1 1384.8" stroke-width="2.6"/>
<polyline points="940.1,1384.8 971.2,1384.8" stroke-width="2.8"/>
<polyline points="825.1,1375.8 825.1,1393.8" stroke-width="2.4"/>
<polyline points="947.9,1375.8 947.9,1393.8" stroke-width="2.4"/>
<line x1="825.1" y1="1353.8" x2="947.9" y2="1353.8" stroke-width="2.4" stroke-dasharray="21 19.9" stroke-dashoffset="10.5"/>
<line x1="947.9" y1="1353.8" x2="947.9" y2="1414.4" stroke-width="2.4" stroke-dasharray="21 39.6" stroke-dashoffset="10.5"/>
<line x1="947.9" y1="1414.4" x2="825.1" y2="1414.4" stroke-width="2.4" stroke-dasharray="21 19.9" stroke-dashoffset="10.5"/>
<line x1="825.1" y1="1414.4" x2="825.1" y2="1353.8" stroke-width="2.4" stroke-dasharray="21 39.6" stroke-dashoffset="10.5"/>
<circle cx="800.2" cy="1384.8" r="9" fill="#000" stroke="none"/>
<circle cx="971.2" cy="1384.8" r="9" fill="#000" stroke="none"/>
<g transform="translate(980.5 1280.7)"><text class="t" x="-0.6" y="0" font-size="33.3">YEL</text></g>
<g transform="translate(982 1378.6)"><text class="t" x="-2.6" y="0" font-size="33.3">RED</text></g>
<g transform="translate(784.7 1344.4)"><text class="t" x="-2.6" y="0" font-size="33.3">BRO L  GN TOR</text><line class="ib" x1="67.4" y1="0" x2="67.4" y2="-22" stroke-width="2"/><line class="ib" x1="127.4" y1="0" x2="127.4" y2="-22" stroke-width="2"/><line class="ib" x1="187.4" y1="0" x2="187.4" y2="-22" stroke-width="2"/></g>
<g transform="translate(767.6 1454.8)"><text class="t" x="-2.6" y="0" font-size="33.3">BAKE  GN TOR</text><line class="ib" x1="107.4" y1="0" x2="107.4" y2="-22" stroke-width="2"/><line class="ib" x1="167.4" y1="0" x2="167.4" y2="-22" stroke-width="2"/></g>
<g transform="translate(884.2 1503)"><text class="t" x="-0" y="0" font-size="33.3">WHT</text></g>
<g transform="translate(702.3 1538.7)"><text class="t" x="-2.6" y="0" font-size="33.3">BLK</text></g>
<g transform="translate(703.9 1576.6)"><text class="t" x="-0" y="0" font-size="33.3">WHT</text></g>
<line x1="1569.9" y1="1400.9" x2="1876.3" y2="1400.9" stroke-width="2.5" stroke-dasharray="21 17.3" stroke-dashoffset="10.5"/>
<line x1="1876.3" y1="1400.9" x2="1876.3" y2="1492.2" stroke-width="2.5" stroke-dasharray="21 24.6" stroke-dashoffset="10.5"/>
<line x1="1876.3" y1="1492.2" x2="1569.9" y2="1492.2" stroke-width="2.5" stroke-dasharray="21 17.3" stroke-dashoffset="10.5"/>
<line x1="1569.9" y1="1492.2" x2="1569.9" y2="1400.9" stroke-width="2.5" stroke-dasharray="21 24.6" stroke-dashoffset="10.5"/>
<rect x="1585.2" y="1416.6" width="161.6" height="60.9" stroke-width="2.8" fill="none"/>
<polyline points="1608.5,1416.6 1608.5,1477.5" stroke-width="2.2"/>
<polyline points="1630.9,1416.6 1630.9,1477.5" stroke-width="2.2"/>
<polyline points="1654.7,1416.6 1654.7,1477.5" stroke-width="2.2"/>
<polyline points="1677,1416.6 1677,1477.5" stroke-width="2.2"/>
<polyline points="1700.4,1416.6 1700.4,1477.5" stroke-width="2.2"/>
<polyline points="1723.2,1416.6 1723.2,1477.5" stroke-width="2.2"/>
<rect x="1769.2" y="1416.6" width="91.8" height="60.9" stroke-width="2.8" fill="none"/>
<polyline points="1792.5,1416.6 1792.5,1477.5" stroke-width="2.2"/>
<polyline points="1815.4,1416.6 1815.4,1477.5" stroke-width="2.2"/>
<polyline points="1838.2,1416.6 1838.2,1477.5" stroke-width="2.2"/>
<path d="M1596.3 1446.5 L1596.3 1300.1 L1677 1300.1 A11.5 11.5 0 0 1 1700 1300.1 L1815.8 1300.1 A11.5 11.5 0 0 1 1838.8 1300.1 L2018.4 1300.1 L2018.4 1425 L2054 1425" stroke-width="2.4"/>
<path d="M1688.5 1446.5 L1688.5 1263.6 L1815.8 1263.2 A11.5 11.5 0 0 1 1838.8 1263.2 L2247.9 1262" stroke-width="2.6"/>
<path d="M1922.2 1164.3 L1922.2 1201.6 L1827.3 1201.6 L1827.3 1446.5" stroke-width="2.8"/>
<path d="M1619.8 1446.5 L1620.9 1508.2" stroke-width="2.2"/>
<path d="M1642.8 1446.5 L1644 1582.3" stroke-width="2.4"/>
<path d="M1780.6 1446.5 L1781.1 1545.6" stroke-width="1.8"/>
<path d="M1849.6 1446.5 L1850.9 1483.8 L2018.4 1483.8 L2018.4 1470.1 L2062 1470.1" stroke-width="2.4"/>
<circle cx="1596.3" cy="1446.5" r="6.4" fill="#fff" stroke-width="2.4"/>
<circle cx="1619.2" cy="1446.5" r="6.4" fill="#fff" stroke-width="2.4"/>
<circle cx="1642.8" cy="1446.5" r="6.4" fill="#fff" stroke-width="2.4"/>
<circle cx="1665.6" cy="1446.5" r="6.4" fill="#fff" stroke-width="2.4"/>
<circle cx="1688.5" cy="1446.5" r="6.4" fill="#fff" stroke-width="2.4"/>
<circle cx="1711.3" cy="1446.5" r="6.4" fill="#fff" stroke-width="2.4"/>
<circle cx="1734.1" cy="1446.5" r="6.4" fill="#fff" stroke-width="2.4"/>
<circle cx="1780.6" cy="1446.5" r="6.4" fill="#fff" stroke-width="2.4"/>
<circle cx="1803.4" cy="1446.5" r="6.4" fill="#fff" stroke-width="2.4"/>
<circle cx="1826.3" cy="1446.5" r="6.4" fill="#fff" stroke-width="2.4"/>
<circle cx="1849.6" cy="1446.5" r="6.4" fill="#fff" stroke-width="2.4"/>
<g transform="translate(1891.5 1477)"><text class="t" x="-3.9" y="0" font-size="33.3">L NE</text><line class="ib" x1="26.1" y1="0" x2="26.1" y2="-22" stroke-width="2"/></g>
<g transform="translate(1956.2 1291.7)"><text class="t" x="-4.5" y="0" font-size="33.3">"N"</text></g>
<g transform="translate(1899.1 1532.8)"><text class="t" x="-1.2" y="0" font-size="33.3">TERM NAL</text><line class="ib" x1="88.8" y1="0" x2="88.8" y2="-22" stroke-width="2"/></g>
<g transform="translate(1916.9 1562)"><text class="t" x="-2.6" y="0" font-size="33.3">BOARD</text></g>
<g transform="translate(2094.5 1532.5)"><text class="t" x="-1.3" y="0" font-size="33.3">SUPPLY</text></g>
<g transform="translate(2094.5 1560.8)"><text class="t" x="-1.8" y="0" font-size="33.3">CORD</text></g>
<g transform="translate(1703.4 1257.6)"><text class="t" x="-0" y="0" font-size="33.3">WHT</text></g>
<g transform="translate(1834.9 1194.3)"><text class="t" x="-2.6" y="0" font-size="33.3">BLK</text></g>
<circle cx="2071.7" cy="1447.3" r="45" stroke-width="2.4" fill="none"/>
<rect x="2053.9" y="1418.6" width="39.4" height="11.9" stroke-width="1" fill="#000"/>
<rect x="2062.3" y="1463" width="27.2" height="13.2" stroke-width="1" fill="#000"/>
<path d="M2035.4 1435.1 L2050 1435.1 Q2060 1447 2050 1459.2 L2035.4 1459.2 Z" stroke-width="1" fill="#000"/>
<polyline points="1995.6,1447.3 2035.4,1447.3" stroke-width="2.4"/>
<polyline points="1995.6,1431.3 1995.6,1463" stroke-width="2.4"/>
<polyline points="1986.7,1436 1986.7,1459" stroke-width="2.4"/>
<polyline points="1979,1439 1979,1455.4" stroke-width="2.4"/>
<polyline points="1923.6,1164.3 1961.8,1164.3" stroke-width="2.3"/>
<polyline points="2022,1164.3 2060.3,1164.3" stroke-width="2.3"/>
<path d="M1962.6 1166.4 L2020.5 1143.8 L2019.9 1142.2 L1961 1162.2 Z" fill="#000" stroke="none"/>
<line x1="1930" y1="1131.7" x2="2052.1" y2="1131.7" stroke-width="2.5" stroke-dasharray="21 19.7" stroke-dashoffset="10.5"/>
<line x1="2052.1" y1="1131.7" x2="2052.1" y2="1193.6" stroke-width="2.5" stroke-dasharray="21 40.9" stroke-dashoffset="10.5"/>
<line x1="2052.1" y1="1193.6" x2="1930" y2="1193.6" stroke-width="2.5" stroke-dasharray="21 19.7" stroke-dashoffset="10.5"/>
<line x1="1930" y1="1193.6" x2="1930" y2="1131.7" stroke-width="2.5" stroke-dasharray="21 40.9" stroke-dashoffset="10.5"/>
<polyline points="1930,1159.3 1930,1169.3" stroke-width="2.5"/>
<polyline points="2052.1,1159.3 2052.1,1169.3" stroke-width="2.5"/>
<circle cx="1961.8" cy="1164.3" r="8.5" fill="#000" stroke="none"/>
<circle cx="2022" cy="1164.3" r="8.5" fill="#000" stroke="none"/>
<circle cx="2022" cy="1164.3" r="1.4" fill="#fff" stroke="none"/>
<circle cx="1923.6" cy="1164.3" r="6.8" fill="#fff" stroke-width="2.5"/>
<circle cx="2060.3" cy="1164.3" r="6.8" fill="#fff" stroke-width="2.5"/>
<path d="M2060.3 1164.3 L2370.8 1164.3 L2370.8 1233.3 L2346 1261" stroke-width="2.6"/>
<g transform="translate(2137.1 1157.2)"><text class="t" x="-2.6" y="0" font-size="33.3">BLK</text></g>
<g transform="translate(1935.3 1226.2)"><text class="t" x="-2.6" y="0" font-size="33.3">DOOR ACTUATED</text></g>
<g transform="translate(1995.5 1256.3)"><text class="t" x="-1.3" y="0" font-size="33.3">SW TCH</text><line class="ib" x1="48.7" y1="0" x2="48.7" y2="-22" stroke-width="2"/></g>
<path d="M2247.9 1261 L2267 1259 L2267 1240 A29.75 29.75 0 0 1 2326.5 1240 L2326.5 1259 L2346 1261" stroke-width="2.6"/>
<path d="M2341 1249.3 A45.5 45.5 0 0 0 2341 1231.5 M2334.3 1215.2 A45.5 45.5 0 0 0 2321.6 1202.5 M2305.3 1195.8 A45.5 45.5 0 0 0 2287.5 1195.8 M2271.2 1202.5 A45.5 45.5 0 0 0 2258.5 1215.2 M2251.8 1231.5 A45.5 45.5 0 0 0 2251.8 1249.3 M2258.5 1265.6 A45.5 45.5 0 0 0 2271.2 1278.3 M2287.5 1285 A45.5 45.5 0 0 0 2305.3 1285 M2321.6 1278.3 A45.5 45.5 0 0 0 2334.3 1265.6" stroke-width="2.4"/>
<circle cx="2247.9" cy="1261" r="6.8" fill="#fff" stroke-width="2.5"/>
<circle cx="2346" cy="1261" r="6.8" fill="#fff" stroke-width="2.5"/>
<g transform="translate(2259.2 1325.4)"><text class="t" x="-3.9" y="0" font-size="33.3">LAMP</text></g></g></svg>
</body></html>
